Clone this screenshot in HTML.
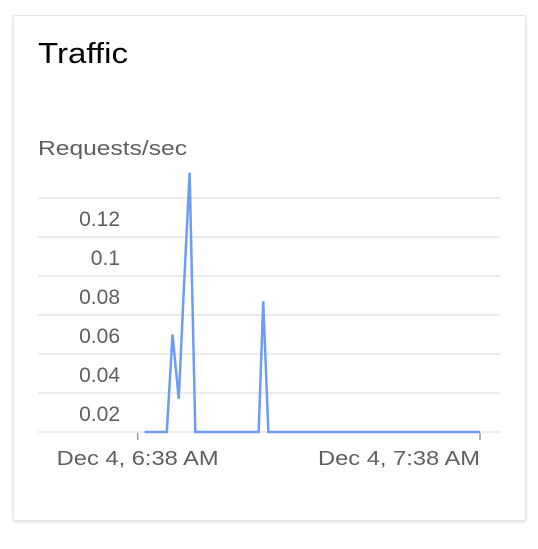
<!DOCTYPE html>
<html><head><meta charset="utf-8"><style>
body{margin:0;background:#fff;width:538px;height:549px;overflow:hidden;font-family:"Liberation Sans",sans-serif}
#card{position:absolute;left:13px;top:15px;width:511px;height:504px;border:1px solid #e4e4e4;border-radius:2px;box-shadow:0 1px 3px rgba(0,0,0,0.12);background:#fff}
svg{position:absolute;left:0;top:0}
</style></head><body>
<div id="card"></div>
<svg id="chart" width="538" height="549">
<text x="38" y="63" font-size="29" fill="#000" textLength="90" lengthAdjust="spacingAndGlyphs">Traffic</text>
<text x="38" y="155" font-size="20" fill="#5f5f5f" textLength="149" lengthAdjust="spacingAndGlyphs">Requests/sec</text>
</svg>
<script>
const minutes=[1.2,5.1,6.1,7.2,8.0,9.1,10.1,21.2,22.0,22.9,60];
const rps=[0,0,0.050,0.017,0.068,0.133,0,0,0.067,0,0];
const yTicks=[0.02,0.04,0.06,0.08,0.10,0.12];
const yTickLabels=["0.02","0.04","0.06","0.08","0.1","0.12"];
const xTicks=[0,60];
const xTickLabels=["Dec 4, 6:38 AM","Dec 4, 7:38 AM"];
const ns="http://www.w3.org/2000/svg";
const svg=document.getElementById('chart');
const x=m=>137.7+m*(480-137.7)/60;
const y=v=>432-v*1950;
function mk(t,a){const e=document.createElementNS(ns,t);for(const k in a)e.setAttribute(k,a[k]);svg.appendChild(e);return e;}
[0,0.02,0.04,0.06,0.08,0.10,0.12].forEach(v=>{
 const l=mk('line',{x1:38,x2:500,y1:y(v),y2:y(v),stroke:'#e6e6e6','stroke-width':1.5});
 
 
});
yTicks.forEach((v,i)=>{
 const t=mk('text',{x:120,y:y(v)+28,'text-anchor':'end','font-size':21,fill:'#5f5f5f'});
 t.textContent=yTickLabels[i];
 
 
});
xTicks.forEach((m,i)=>{
 const tk=mk('line',{x1:x(m),x2:x(m),y1:433,y2:440,stroke:'#999','stroke-width':1.5});
 
 
 const t=mk('text',{x:x(m),y:465,'text-anchor':i==0?'middle':'end','font-size':20,fill:'#5f5f5f',textLength:162,lengthAdjust:'spacingAndGlyphs'});
 t.textContent=xTickLabels[i];
 
 
});
const p=mk('polyline',{points:minutes.map((m,i)=>x(m)+','+y(rps[i])).join(' '),fill:'none',stroke:'#6d9bf5','stroke-width':2.5,'stroke-linejoin':'miter'});


</script>
</body></html>
